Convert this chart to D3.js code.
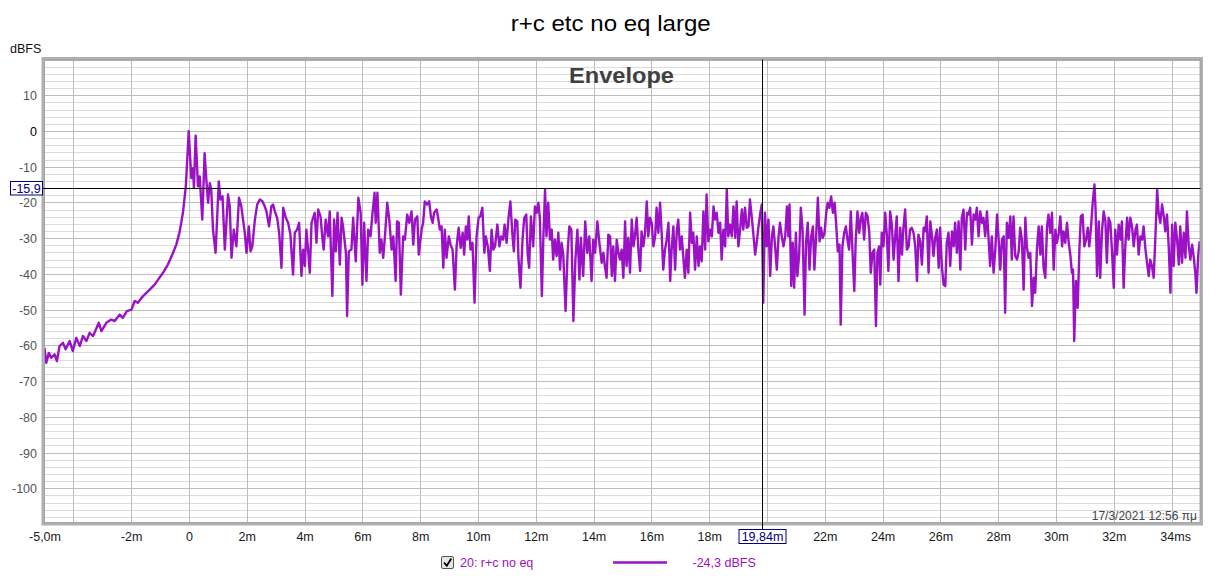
<!DOCTYPE html>
<html><head><meta charset="utf-8">
<script src="https://cdn.jsdelivr.net/npm/d3@7/dist/d3.min.js"></script>
<style>
body{margin:0;background:#fff;}
svg{display:block;font-family:"Liberation Sans",Arial,sans-serif;}
</style>
</head><body>
<svg id="chart" width="1222" height="577"></svg>
<script>
// ---------------- data ----------------
const chartTitle = "r+c etc no eq large";
const panelTitle = "Envelope";
const yUnit = "dBFS";
const dateStamp = "17/3/2021 12:56 πμ";
const legendName = "20: r+c no eq";
const legendValue = "-24,3 dBFS";
const cursorTime = 19.84;          // ms
const cursorLevel = -15.9;         // dBFS
const cursorTimeLabel = "19,84m";
const cursorLevelLabel = "-15,9";
const xDomain = [-5, 35];
const yDomain = [-110, 20];
const xGridValues = [-4,-2,0,2,4,6,8,10,12,14,16,18,20,22,24,26,28,30,32,34];
// 20m label is hidden behind the cursor read-out in the reference
const xLabelValues = [-5,-2,0,2,4,6,8,10,12,14,16,18,22,24,26,28,30,32,34];
const yLabelValues = [10,0,-10,-20,-30,-40,-50,-60,-70,-80,-90,-100];

// envelope vertices [time ms, level dBFS]
const riseSegment = [
[-5.00,-60.7],[-4.94,-64.9],[-4.85,-62.1],[-4.77,-63.5],[-4.65,-62.5],[-4.57,-64.4],[-4.48,-60.2],[-4.36,-59.3],
[-4.27,-61.1],[-4.13,-58.8],[-4.02,-61.6],[-3.90,-57.9],[-3.78,-60.2],[-3.67,-57.4],[-3.55,-58.8],[-3.44,-56.5],
[-3.32,-57.4],[-3.12,-53.7],[-3.03,-56.0],[-2.86,-53.7],[-2.69,-52.8],[-2.57,-53.2],[-2.40,-51.4],[-2.29,-52.3],
[-2.15,-50.4],[-1.99,-50.0],[-1.88,-47.6],[-1.77,-48.1],[-1.59,-46.2],[-1.36,-44.4],[-1.19,-43.0],[-1.07,-41.6],
[-0.90,-39.7],[-0.73,-37.4],[-0.55,-34.1],[-0.44,-31.8],[-0.32,-28.1],[-0.21,-22.9],[-0.11,-15.5],[-0.01,-0.1]
];
const earlySegment = [
[0.08,-13.2],[0.14,-10.4],[0.17,-15.9],[0.23,-1.3],[0.31,-15.5],[0.37,-12.7],[0.46,-24.8],[0.54,-6.2],
[0.60,-13.6],[0.66,-20.1],[0.72,-14.6],[0.77,-16.4],[0.83,-27.6],[0.92,-34.1],[1.03,-14.1],[1.09,-19.2],
[1.16,-18.3],[1.24,-33.2],[1.35,-17.8],[1.41,-21.1],[1.47,-35.5],[1.55,-27.6],[1.64,-32.3],[1.73,-18.7],
[1.81,-21.1],[1.87,-24.8],[1.93,-28.5],[1.99,-34.1],[2.07,-26.7],[2.13,-33.7],[2.19,-32.3],[2.28,-24.8],
[2.36,-20.6],[2.45,-19.2],[2.54,-19.7],[2.62,-21.1],[2.68,-22.5],[2.77,-26.7],[2.85,-21.1],[2.91,-20.6],
[2.97,-22.5],[3.05,-24.3],[3.12,-28.5],[3.20,-38.3],[3.26,-21.5],[3.35,-24.3],[3.43,-25.7],[3.51,-29.0],
[3.60,-40.2],[3.66,-28.5],[3.74,-27.6],[3.81,-25.7]
];
const midSegment = [
[3.89,-40.6],[3.95,-33.2],[4.01,-37.8],[4.06,-27.6],[4.12,-33.2],[4.18,-39.7],[4.24,-25.7],[4.35,-22.9],
[4.41,-31.3],[4.47,-22.0],[4.55,-23.9],[4.62,-30.4],[4.66,-33.2],[4.73,-24.8],[4.81,-29.5],[4.87,-22.5],
[4.96,-46.2],[5.02,-24.8],[5.08,-33.7],[5.14,-22.9],[5.22,-37.4],[5.28,-24.3],[5.33,-26.7],[5.43,-34.1],
[5.47,-51.8],[5.53,-33.7],[5.62,-33.2],[5.68,-24.3],[5.77,-36.5],[5.86,-18.7],[5.94,-22.9],[6.00,-43.0],
[6.06,-25.7],[6.14,-42.0],[6.20,-27.6],[6.28,-29.5],[6.35,-22.9],[6.42,-17.3],[6.46,-25.7],[6.52,-17.3],
[6.60,-34.1],[6.66,-30.4],[6.72,-35.5],[6.78,-29.5],[6.86,-20.1],[6.93,-24.8],[7.01,-33.2],[7.07,-29.5],
[7.15,-42.0],[7.20,-25.3],[7.26,-25.7],[7.33,-45.8],[7.41,-29.5],[7.47,-30.4],[7.55,-23.4],[7.62,-25.7],
[7.70,-22.5],[7.76,-31.8],[7.82,-24.8],[7.90,-23.9],[7.95,-34.6],[8.05,-27.6],[8.10,-25.7],[8.16,-19.7],
[8.24,-20.6],[8.31,-19.7],[8.37,-23.9],[8.43,-25.7],[8.48,-22.9],[8.57,-22.0],[8.62,-24.3],[8.68,-27.6],
[8.74,-26.7],[8.80,-38.3],[8.85,-27.6],[8.91,-35.5],[8.99,-29.5],[9.05,-31.8],[9.12,-33.2],[9.20,-44.4],
[9.26,-32.3],[9.33,-27.1],[9.40,-32.7],[9.47,-28.5],[9.52,-34.6],[9.58,-26.7],[9.63,-30.4],[9.68,-23.9],
[9.74,-33.2],[9.81,-31.3],[9.88,-48.1],[9.95,-29.5],[10.02,-24.3],[10.08,-23.9],[10.15,-21.5],[10.22,-34.1],
[10.27,-29.5],[10.34,-32.3],[10.41,-39.2],[10.47,-27.6],[10.53,-33.2],[10.59,-32.3],[10.67,-26.2],[10.74,-32.3],
[10.80,-29.5],[10.87,-30.4],[10.92,-26.2],[10.99,-31.3],[11.05,-24.8],[11.12,-19.7],[11.19,-29.0],[11.24,-33.7],
[11.29,-24.8],[11.36,-25.3],[11.40,-35.5],[11.47,-43.9],[11.54,-30.4],[11.60,-24.3],[11.67,-23.4],[11.72,-34.6],
[11.77,-38.3],[11.83,-23.9],[11.91,-32.3],[11.97,-21.1],[12.03,-22.9],[12.09,-20.1],[12.14,-24.3],[12.21,-46.2],
[12.26,-30.4],[12.32,-16.4],[12.37,-29.5],[12.43,-20.1],[12.49,-30.4],[12.55,-27.6],[12.60,-36.0],[12.66,-30.4],
[12.72,-35.0],[12.78,-28.5],[12.84,-38.8],[12.89,-31.3],[12.95,-34.6],[13.03,-50.4],[13.10,-34.1],[13.16,-26.7],
[13.23,-27.6],[13.30,-53.2],[13.37,-36.0],[13.44,-27.6],[13.51,-41.6],[13.56,-29.9],[13.64,-40.6],[13.71,-25.3],
[13.78,-34.1],[13.85,-29.5]
];
const lateSegment = [
[13.93,-42.0],[13.99,-30.4],[14.05,-34.1],[14.13,-25.3],[14.20,-31.3],[14.28,-36.9],[14.34,-34.1],[14.39,-37.8],
[14.45,-41.1],[14.51,-29.0],[14.57,-29.5],[14.63,-40.6],[14.68,-32.3],[14.74,-42.0],[14.80,-30.4],[14.86,-34.1],
[14.91,-36.0],[14.97,-33.2],[15.03,-41.1],[15.09,-25.3],[15.14,-37.8],[15.20,-29.9],[15.26,-39.7],[15.32,-24.8],
[15.38,-32.3],[15.43,-29.5],[15.49,-24.3],[15.55,-33.2],[15.61,-39.2],[15.66,-28.1],[15.72,-32.3],[15.78,-28.5],
[15.84,-19.7],[15.89,-29.5],[15.95,-24.3],[16.01,-25.7],[16.07,-32.3],[16.13,-29.5],[16.18,-21.5],[16.24,-28.5],
[16.30,-20.1],[16.36,-29.5],[16.41,-38.8],[16.47,-33.2],[16.53,-30.4],[16.59,-25.7],[16.65,-42.0],[16.70,-33.2],
[16.76,-26.7],[16.82,-38.8],[16.88,-27.6],[16.93,-24.8],[16.99,-33.2],[17.05,-29.5],[17.11,-36.0],[17.16,-41.1],
[17.22,-33.2],[17.28,-39.7],[17.34,-22.9],[17.40,-31.3],[17.45,-28.5],[17.51,-38.8],[17.57,-29.5],[17.63,-37.8],
[17.68,-32.3],[17.74,-36.5],[17.80,-22.5],[17.86,-33.2],[17.91,-17.8],[17.97,-30.9],[18.03,-27.6],[18.09,-29.5],
[18.15,-21.1],[18.20,-24.8],[18.26,-22.9],[18.32,-28.5],[18.38,-25.7],[18.43,-36.0],[18.49,-27.6],[18.55,-32.3],
[18.61,-16.4],[18.66,-29.5],[18.72,-26.2],[18.78,-29.5],[18.84,-21.1],[18.90,-29.9],[18.95,-19.7],[19.01,-32.3],
[19.07,-27.6],[19.13,-22.0],[19.18,-27.6],[19.24,-21.5],[19.30,-27.1],[19.36,-26.7],[19.41,-19.2],[19.47,-23.9],
[19.53,-29.0],[19.59,-34.6],[19.65,-30.9],[19.70,-27.1],[19.76,-23.4],[19.82,-20.6],[19.87,-48.1],[19.93,-22.9],
[19.99,-32.3],[20.05,-24.8],[20.11,-40.6],[20.17,-29.5],[20.22,-26.7],[20.28,-32.3],[20.34,-38.8],[20.40,-29.5],
[20.45,-25.7],[20.51,-29.5],[20.57,-32.3],[20.63,-29.5],[20.69,-21.1],[20.74,-29.5],[20.78,-20.6],[20.84,-43.4],
[20.89,-31.3],[20.94,-43.9],[21.00,-28.5],[21.05,-40.6],[21.11,-35.0],[21.17,-21.5],[21.23,-27.6],[21.30,-51.4],
[21.35,-31.3],[21.41,-25.7],[21.47,-38.8],[21.53,-29.5],[21.59,-26.7],[21.64,-38.8],[21.70,-29.5],[21.76,-18.7],
[21.82,-30.9],[21.87,-27.1],[21.93,-29.9],[21.99,-28.5],[22.05,-22.9],[22.10,-20.1],[22.16,-21.5],[22.22,-18.3],
[22.28,-22.9],[22.34,-20.1],[22.39,-25.7],[22.45,-33.7],[22.51,-31.8],[22.55,-54.2],[22.61,-32.3],[22.67,-28.5],
[22.73,-26.7],[22.79,-30.9],[22.84,-33.2],[22.90,-22.5],[22.96,-34.1],[23.02,-44.8],[23.07,-30.4],[23.13,-22.5],
[23.19,-28.5],[23.25,-24.3],[23.30,-22.9],[23.36,-30.4],[23.42,-22.9],[23.48,-23.9],[23.54,-28.5],[23.59,-39.7],
[23.65,-34.1],[23.71,-33.2],[23.77,-54.6],[23.82,-34.1],[23.88,-32.3]
];
const tailSegment = [
[23.92,-43.0],[23.97,-28.5],[24.03,-32.3],[24.09,-22.9],[24.15,-29.5],[24.20,-39.2],[24.26,-22.5],[24.32,-26.2],
[24.38,-36.0],[24.44,-29.0],[24.49,-23.9],[24.55,-42.0],[24.61,-27.1],[24.67,-34.6],[24.72,-27.1],[24.78,-22.0],
[24.84,-33.2],[24.90,-32.3],[24.95,-27.6],[25.01,-27.1],[25.07,-28.5],[25.13,-32.3],[25.19,-42.0],[25.24,-29.0],
[25.30,-30.9],[25.36,-37.4],[25.42,-27.1],[25.47,-28.1],[25.53,-23.9],[25.59,-39.7],[25.65,-25.3],[25.71,-29.5],
[25.76,-35.0],[25.82,-29.9],[25.88,-27.6],[25.94,-38.3],[25.99,-27.1],[26.05,-37.8],[26.11,-43.0],[26.17,-43.4],
[26.22,-31.3],[26.28,-28.5],[26.34,-37.8],[26.40,-28.1],[26.46,-32.3],[26.51,-25.7],[26.57,-34.1],[26.63,-25.3],
[26.69,-38.8],[26.74,-24.3],[26.80,-22.0],[26.86,-33.2],[26.92,-22.9],[26.97,-23.4],[27.03,-21.5],[27.09,-31.8],
[27.15,-23.4],[27.21,-24.8],[27.26,-21.5],[27.32,-29.5],[27.38,-22.5],[27.44,-25.7],[27.49,-24.3],[27.55,-29.5],
[27.61,-22.5],[27.67,-30.4],[27.72,-37.8],[27.78,-29.5],[27.84,-39.7],[27.90,-33.2],[27.96,-23.4],[28.01,-29.5],
[28.07,-38.8],[28.13,-30.4],[28.19,-29.5],[28.24,-50.9],[28.30,-25.7],[28.36,-29.9],[28.42,-23.9],[28.47,-36.0],
[28.53,-23.9],[28.59,-35.0],[28.65,-36.0],[28.71,-33.7],[28.76,-27.1],[28.82,-30.4],[28.88,-44.4],[28.94,-24.3],
[28.99,-32.3],[29.05,-35.5],[29.11,-34.1],[29.17,-49.0],[29.23,-41.1],[29.28,-45.3],[29.34,-33.2],[29.40,-26.7],
[29.46,-34.6],[29.51,-26.7],[29.57,-38.3],[29.63,-41.1],[29.69,-26.7],[29.74,-23.4],[29.80,-28.5],[29.86,-22.9],
[29.92,-38.8],[29.98,-27.6],[30.03,-31.3],[30.09,-29.0],[30.15,-23.9],[30.21,-32.3],[30.26,-28.1],[30.32,-31.3],
[30.38,-25.7],[30.44,-31.3],[30.50,-35.0],[30.55,-39.7],[30.59,-38.8],[30.63,-58.8],[30.69,-42.0],[30.75,-49.5],
[30.81,-33.2],[30.86,-23.9],[30.92,-23.4],[30.98,-32.3],[31.04,-30.4],[31.10,-27.1],[31.15,-32.3],[31.21,-27.1],
[31.27,-20.1],[31.33,-15.0],[31.37,-22.0],[31.42,-40.6],[31.48,-25.3],[31.53,-41.1],[31.59,-28.1],[31.65,-22.5],
[31.71,-25.3],[31.76,-36.9],[31.82,-24.3],[31.88,-25.7],[31.94,-34.1],[32.00,-43.9],[32.05,-27.6],[32.11,-34.6],
[32.17,-26.2],[32.23,-30.4],[32.28,-25.3],[32.34,-43.9],[32.40,-31.8],[32.46,-24.3],[32.51,-30.4],[32.57,-24.3],
[32.63,-26.7],[32.69,-32.3],[32.75,-27.6],[32.80,-26.2],[32.86,-34.6],[32.92,-29.5],[32.98,-30.4],[33.03,-26.7],
[33.09,-32.7],[33.15,-36.9],[33.21,-40.6],[33.26,-36.0],[33.32,-37.8],[33.38,-41.1],[33.44,-29.5],[33.50,-16.4],
[33.55,-22.9],[33.61,-25.7],[33.67,-20.6],[33.73,-23.9],[33.78,-28.1],[33.84,-23.4],[33.90,-32.3],[33.96,-45.3],
[34.02,-26.2],[34.07,-37.8],[34.13,-25.7],[34.19,-30.4],[34.25,-37.4],[34.30,-26.7],[34.36,-36.9],[34.42,-28.5],
[34.48,-35.5],[34.53,-22.5],[34.59,-31.8],[34.65,-36.0],[34.71,-31.8],[34.77,-35.5],[34.82,-39.7],[34.86,-45.3],
[34.92,-35.0],[34.97,-30.9]
];

// ---------------- drawing ----------------
const lineColor = "#9b12c6";
const envelope = [].concat(riseSegment, earlySegment, midSegment, lateSegment, tailSegment);

const svg = d3.select("#chart");
const L = 43, R = 1201.5, T = 59.5, B = 524;
const x = d3.scaleLinear().domain(xDomain).range([L + 1.5, R - 1]);
const y = d3.scaleLinear().domain(yDomain).range([B, T]);

svg.append("rect").attr("width",1222).attr("height",577).attr("fill","#fff");

// title
svg.append("text").attr("x",610.7).attr("y",31).attr("text-anchor","middle")
  .attr("font-size",22.5).attr("fill","#000").attr("textLength",200).attr("lengthAdjust","spacingAndGlyphs")
  .text(chartTitle);
svg.append("text").attr("x",10).attr("y",53).attr("font-size",12.5).attr("fill","#111").text(yUnit);

// plot background
svg.append("rect").attr("x",L).attr("y",T).attr("width",R-L).attr("height",B-T).attr("fill","#fff");

// grid
const grid = svg.append("g");
grid.selectAll("line.minor").data(d3.range(yDomain[0], yDomain[1]+0.01, 2)).join("line")
  .attr("x1",L).attr("x2",R).attr("y1",d=>Math.round(y(d))+0.5).attr("y2",d=>Math.round(y(d))+0.5)
  .attr("stroke","#dcdcdc").attr("stroke-width",1);
grid.selectAll("line.major").data(d3.range(yDomain[0], yDomain[1]+0.01, 10)).join("line")
  .attr("x1",L).attr("x2",R).attr("y1",d=>Math.round(y(d))+0.5).attr("y2",d=>Math.round(y(d))+0.5)
  .attr("stroke","#bdbdbd").attr("stroke-width",1);
grid.selectAll("line.vert").data(xGridValues).join("line")
  .attr("x1",d=>Math.round(x(d))+0.5).attr("x2",d=>Math.round(x(d))+0.5).attr("y1",T).attr("y2",B)
  .attr("stroke","#bdbdbd").attr("stroke-width",1);

// panel title & date
svg.append("text").attr("x",621.5).attr("y",82.5).attr("text-anchor","middle")
  .attr("font-size",21.5).attr("font-weight","bold").attr("fill","#404040")
  .attr("textLength",105).attr("lengthAdjust","spacingAndGlyphs").text(panelTitle);
svg.append("text").attr("x",1197).attr("y",519.5).attr("text-anchor","end")
  .attr("font-size",12).attr("fill","#444").text(dateStamp);

// envelope line
svg.append("clipPath").attr("id","clip").append("rect")
  .attr("x",L).attr("y",T).attr("width",R-L).attr("height",B-T);
const line = d3.line().x(d=>x(d[0])).y(d=>y(d[1]));
svg.append("path").datum(envelope).attr("clip-path","url(#clip)")
  .attr("d",line).attr("fill","none").attr("stroke",lineColor)
  .attr("stroke-width",2.4).attr("stroke-linejoin","round");

// frame (sunken look)
svg.append("rect").attr("x",L).attr("y",T-1).attr("width",R-L).attr("height",B-T+1)
  .attr("fill","none").attr("stroke","#b0b0b0").attr("stroke-width",3);
svg.append("rect").attr("x",L+1.5).attr("y",T+0.5).attr("width",R-L-3).attr("height",B-T-2)
  .attr("fill","none").attr("stroke","#9a9a9a").attr("stroke-width",0.8);

// cursor lines
const cx = Math.round(x(cursorTime))+0.5, cy = Math.round(y(cursorLevel))+0.5;
svg.append("line").attr("x1",cx).attr("x2",cx).attr("y1",T).attr("y2",529).attr("stroke","#000");
svg.append("line").attr("x1",42).attr("x2",R-1).attr("y1",cy).attr("y2",cy).attr("stroke","#000");

// x axis labels
const xAxis = d3.axisBottom(x).tickValues(xLabelValues).tickSize(0).tickPadding(0)
  .tickFormat(d => d === -5 ? "-5,0m" : d === 0 ? "0" : d === 34 ? "34ms" : d + "m");
const gx = svg.append("g").attr("transform",`translate(0,${B})`).call(xAxis);
gx.select(".domain").remove();
gx.selectAll("text").attr("font-size",12.5).attr("fill","#1a1a1a")
  .attr("font-family","Liberation Sans, Arial, sans-serif").attr("dy",null).attr("y",17);
gx.selectAll("text").filter(d=>d===34).attr("dx",3.5);

// y axis labels
const yAxis = d3.axisLeft(y).tickValues(yLabelValues).tickSize(0).tickPadding(0).tickFormat(d3.format("d"));
const gy = svg.append("g").attr("transform",`translate(37,0)`).call(yAxis);
gy.select(".domain").remove();
gy.selectAll("text").attr("font-size",12.5).attr("fill",d=>d===0?"#000":"#555")
  .attr("font-family","Liberation Sans, Arial, sans-serif").attr("x",0).attr("dy","0.36em")
  .text(d=>d3.format("d")(d).replace("−","-"));

// cursor value boxes
const navy = "#000080";
svg.append("rect").attr("x",10.5).attr("y",cy-7).attr("width",32).attr("height",13.5)
  .attr("fill","#fff").attr("stroke",navy);
svg.append("text").attr("x",26.5).attr("y",cy+4.5).attr("text-anchor","middle")
  .attr("font-size",12.5).attr("fill",navy).text(cursorLevelLabel);
svg.append("rect").attr("x",cx-23.5).attr("y",529.5).attr("width",47).attr("height",14)
  .attr("fill","#fff").attr("stroke",navy);
svg.append("text").attr("x",cx).attr("y",541).attr("text-anchor","middle")
  .attr("font-size",12.5).attr("fill",navy).text(cursorTimeLabel);

// legend
const lg = svg.append("g");
lg.append("rect").attr("x",441.5).attr("y",556.5).attr("width",12).attr("height",12).attr("rx",1.5)
  .attr("fill","#e6e6e6").attr("stroke","#555");
lg.append("path").attr("d","M444,562.5 L446.8,565.8 L451.3,558.6").attr("fill","none")
  .attr("stroke","#000").attr("stroke-width",1.8);
lg.append("text").attr("x",460).attr("y",567).attr("font-size",12.5).attr("fill",lineColor).text(legendName);
lg.append("line").attr("x1",613).attr("x2",667).attr("y1",562.5).attr("y2",562.5)
  .attr("stroke",lineColor).attr("stroke-width",2.5);
lg.append("text").attr("x",692.5).attr("y",567).attr("font-size",12.5).attr("fill",lineColor).text(legendValue);
</script>
</body></html>
